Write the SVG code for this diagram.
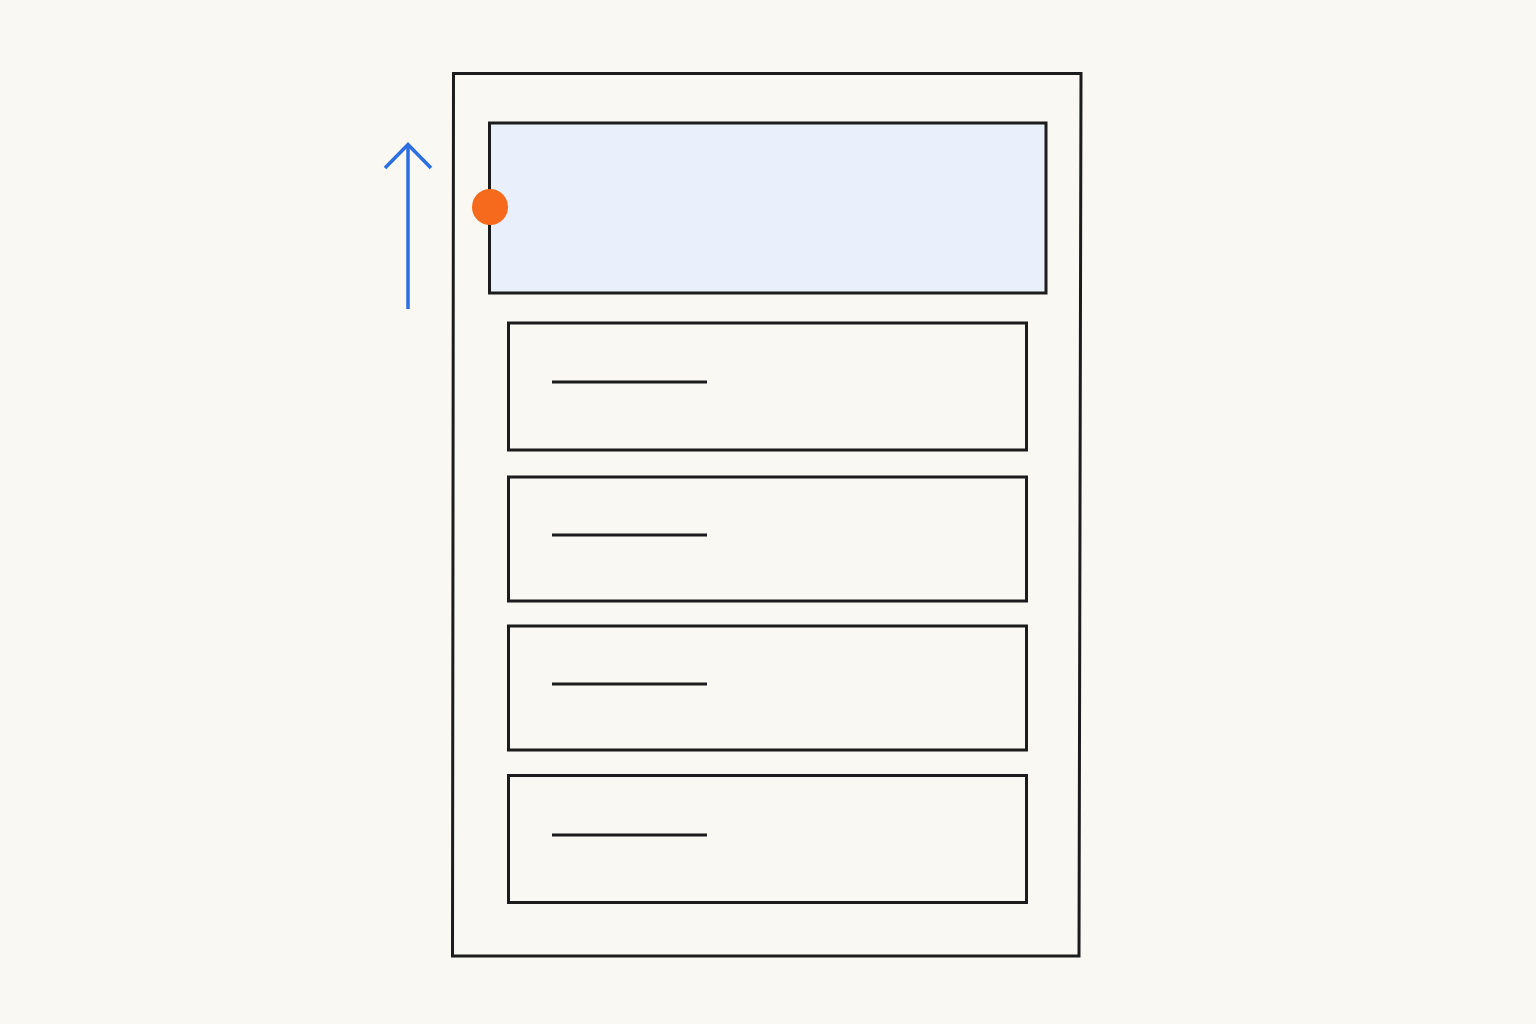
<svg xmlns="http://www.w3.org/2000/svg" width="1536" height="1024" viewBox="0 0 1536 1024">
<style>
.box{fill:none;stroke:#1c1c1c;stroke-width:3}
.ln{stroke:#1c1c1c;stroke-width:3;stroke-linecap:butt}
.arr{fill:none;stroke:#2b6fe2;stroke-width:3.5}
</style>
<rect width="1536" height="1024" fill="#f9f8f3"/>
<g id="page">
<path class="box" d="M453.5,73.5 L1081,73.5 L1079,956 L452.5,956 Z" fill="#f9f8f3"/>
</g>
<g id="header">
<rect x="489.5" y="123" width="556.5" height="170" fill="#e9f0fb" stroke="#1c1c1c" stroke-width="3"/>
</g>
<g id="row1">
<rect class="box" x="508.5" y="323" width="518" height="127"/>
<line class="ln" x1="552" y1="382" x2="707" y2="382"/>
</g>
<g id="row2">
<rect class="box" x="508.5" y="477" width="518" height="124"/>
<line class="ln" x1="552" y1="535" x2="707" y2="535"/>
</g>
<g id="row3">
<rect class="box" x="508.5" y="626" width="518" height="124"/>
<line class="ln" x1="552" y1="684" x2="707" y2="684"/>
</g>
<g id="row4">
<rect class="box" x="508.5" y="775.5" width="518" height="127"/>
<line class="ln" x1="552" y1="835" x2="707" y2="835"/>
</g>
<g id="connectors">
<line class="arr" x1="408" y1="309" x2="408" y2="145"/>
<polyline class="arr" points="385,168 408,144.5 431,168"/>
</g>
<g id="marker">
<circle cx="490" cy="207" r="18" fill="#f56a1c"/>
</g>
</svg>
